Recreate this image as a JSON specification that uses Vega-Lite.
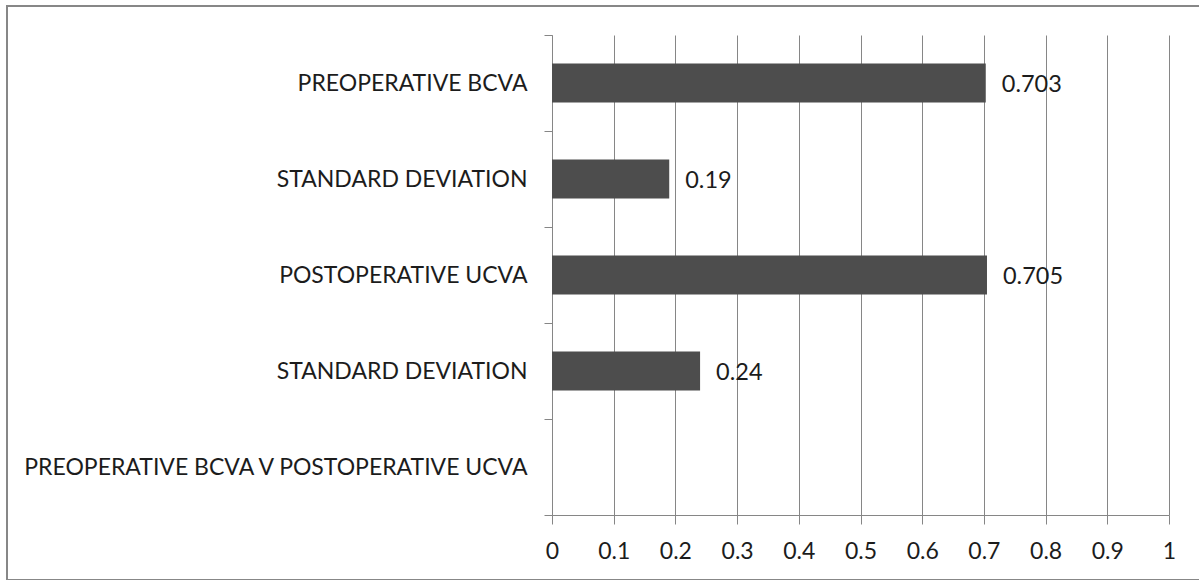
{
  "$schema": "https://vega.github.io/schema/vega-lite/v6.json",
  "width": 1300,
  "height": 574,
  "autosize": {"type": "none"},
  "padding": {"left": 7, "top": 6, "right": 0, "bottom": 0},
  "background": "white",
  "config": {
    "font": "Lato",
    "view": {"stroke": "#878787", "strokeWidth": 2},
    "axis": {
      "domainColor": "#868686",
      "tickColor": "#868686",
      "gridColor": "#868686",
      "domainWidth": 1,
      "tickWidth": 1,
      "gridWidth": 1,
      "labelColor": "#1c1c1c",
      "labelFontSize": 23,
      "labelFont": "Lato"
    }
  },
  "data": {
    "values": [
      {"measure": "PREOPERATIVE BCVA\u00a0", "value": 0.703},
      {"measure": "STANDARD DEVIATION", "value": 0.19},
      {"measure": "POSTOPERATIVE UCVA", "value": 0.705},
      {"measure": "STANDARD DEVIATION\u200b", "value": 0.24},
      {"measure": "PREOPERATIVE BCVA V POSTOPERATIVE UCVA", "value": null}
    ]
  },
  "encoding": {
    "y": {
      "field": "measure",
      "type": "nominal",
      "sort": null,
      "scale": {
        "domain": [
          "PREOPERATIVE BCVA\u00a0",
          "STANDARD DEVIATION",
          "POSTOPERATIVE UCVA",
          "STANDARD DEVIATION\u200b",
          "PREOPERATIVE BCVA V POSTOPERATIVE UCVA"
        ],
        "range": [29, 509],
        "paddingInner": 0,
        "paddingOuter": 0
      },
      "axis": {
        "title": null,
        "orient": "left",
        "offset": -545,
        "tickBand": "extent",
        "grid": false,
        "tickSize": 8,
        "labelPadding": 17,
        "labelLimit": 0
      }
    }
  },
  "layer": [
    {
      "mark": {"type": "bar", "size": 39, "color": "#4d4d4d"},
      "encoding": {
        "x": {
          "field": "value",
          "type": "quantitative",
          "scale": {"domain": [0, 1], "range": [545, 1162], "nice": false},
          "axis": {
            "title": null,
            "orient": "bottom",
            "offset": -65,
            "values": [0, 0.1, 0.2, 0.3, 0.4, 0.5, 0.6, 0.7, 0.8, 0.9, 1],
            "format": "~g",
            "grid": false,
            "labelFlush": false,
            "tickSize": 9,
            "labelPadding": 16
          }
        }
      }
    },
    {
      "transform": [{"filter": "isValid(datum.value)"}],
      "mark": {"type": "text", "align": "left", "baseline": "middle", "dx": 16, "dy": 2, "fontSize": 23.5, "color": "#1c1c1c"},
      "encoding": {
        "x": {
          "field": "value",
          "type": "quantitative",
          "scale": {"domain": [0, 1], "range": [545, 1162], "nice": false},
          "axis": {
            "title": null,
            "orient": "top",
            "values": [0, 0.1, 0.2, 0.3, 0.4, 0.5, 0.6, 0.7, 0.8, 0.9, 1],
            "grid": true,
            "labels": false,
            "ticks": false,
            "domain": false
          }
        },
        "text": {"field": "value", "type": "quantitative"}
      }
    }
  ],
  "resolve": {"axis": {"x": "independent"}}
}
